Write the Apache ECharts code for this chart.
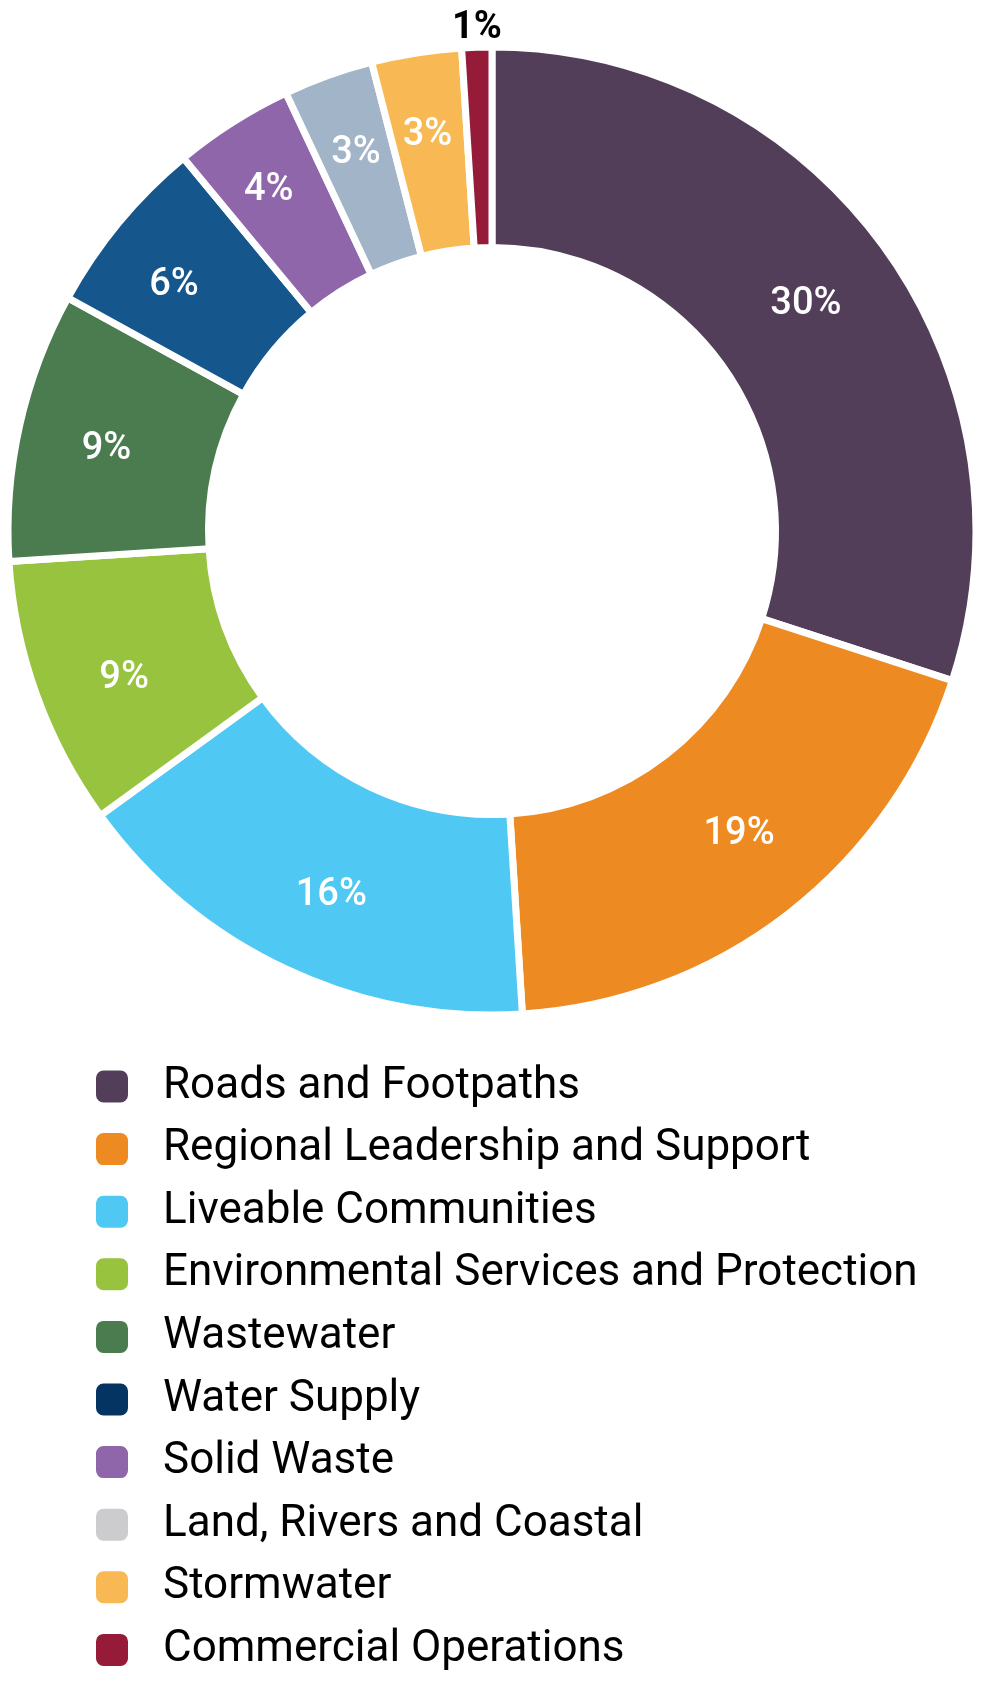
<!DOCTYPE html>
<html>
<head>
<meta charset="utf-8">
<script src="https://cdn.jsdelivr.net/npm/echarts@6/dist/echarts.min.js"></script>
<style>
html,body{margin:0;padding:0;background:#fff;}
#chart{width:987px;height:1706px;}
</style>
</head>
<body>
<div id="chart"></div>
<script>
var categories = ["Roads and Footpaths","Regional Leadership and Support","Liveable Communities","Environmental Services and Protection","Wastewater","Water Supply","Solid Waste","Land, Rivers and Coastal","Stormwater","Commercial Operations"];
var values = [30,19,16,9,9,6,4,3,3,1];
var sliceColors = ["#533e5a","#ee8a22","#4fc9f3","#98c33f","#4a7c4f","#15568c","#9066ab","#a2b4c8","#f8b955","#961b38"];
var legendColors = ["#533e5a","#ee8a22","#4fc9f3","#98c33f","#4a7c4f","#033462","#9066ab","#cccbce","#f8b955","#961b38"];
// label nudges (style only) relative to the default inside position
var labelOffsets = [[1,1],[10,-2],[4,15],[-4,16],[-8,3],[-20,1],[-16,-14],[-5,-14],[-4,-14],[-3,-116]];

var FONT = 'Roboto, "Liberation Sans", sans-serif';
var chart = echarts.init(document.getElementById('chart'), null, {renderer:'canvas'});

var seriesData = categories.map(function(c,i){
  var d = {name:c, value:values[i], itemStyle:{color:sliceColors[i]}, label:{offset:labelOffsets[i]}};
  if (i === categories.length-1) {
    d.label.color = '#000';
    d.label.fontWeight = 'bold';
  }
  return d;
});

chart.setOption({
  animation:false,
  backgroundColor:'#fff',
  legend:{
    orient:'vertical',
    left:94,
    top:1064.5,
    height:640,
    padding:0,
    itemWidth:34,
    itemHeight:34,
    itemGap:18.6,
    icon:'roundRect',
    selectedMode:false,
    textStyle:{fontFamily:FONT, fontSize:44, color:'#000', lineHeight:44, padding:[0,0,0,29]},
    data: categories.map(function(c,i){ return {name:c, itemStyle:{color:legendColors[i]}}; })
  },
  series:[{
    type:'pie',
    center:[492,531],
    radius:[283.5,484],
    startAngle:90,
    clockwise:true,
    avoidLabelOverlap:false,
    emphasis:{disabled:true, scale:false},
    itemStyle:{borderColor:'#fff', borderWidth:7},
    label:{
      show:true,
      position:'inside',
      formatter:'{c}%',
      color:'#fff',
      fontFamily:FONT,
      fontSize:38,
      fontWeight:500
    },
    labelLine:{show:false},
    data:seriesData
  }]
});
</script>
</body>
</html>
